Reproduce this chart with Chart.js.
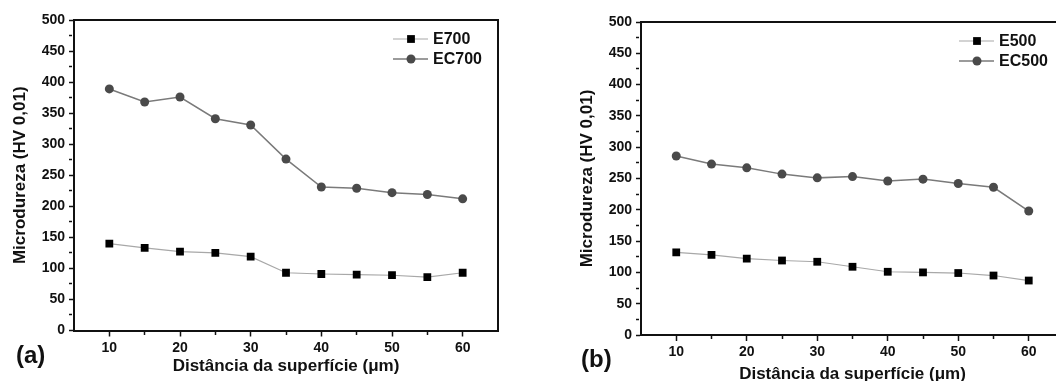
<!DOCTYPE html>
<html>
<head>
<meta charset="utf-8">
<script src="https://cdn.jsdelivr.net/npm/chart.js@4/dist/chart.umd.min.js"></script>
<style>
  html, body { margin: 0; padding: 0; background: #fff; overflow: hidden; width: 1056px; height: 381px; }
  .panel { position: absolute; top: 0; }
  #pa { left: 0; width: 520px; height: 381px; }
  #pb { left: 530px; width: 545px; height: 395px; }
  .tag { position: absolute; font: bold 24px "Liberation Sans", Arial, sans-serif; color: #111; }
</style>
</head>
<body>
<div class="panel" id="pa"><canvas id="chartA"></canvas></div>
<div class="panel" id="pb"><canvas id="chartB"></canvas></div>
<div class="tag" style="left:16px; top:341px;">(a)</div>
<div class="tag" style="left:581px; top:345px;">(b)</div>
<script>
// Distance from surface (um)
const distances = [10, 15, 20, 25, 30, 35, 40, 45, 50, 55, 60];

// Panel (a)
const e700  = [140, 133, 127, 125, 119, 93, 91, 90, 89, 86, 93];
const ec700 = [389, 368, 376, 341, 331, 276, 231, 229, 222, 219, 212];

// Panel (b)
const e500  = [132, 128, 122, 119, 117, 109, 101, 100, 99, 95, 87];
const ec500 = [286, 273, 267, 257, 251, 253, 246, 249, 242, 236, 198];

// Tick positions (minor ticks without labels)
const xTicks = [10, 15, 20, 25, 30, 35, 40, 45, 50, 55, 60];
const yTicks = [0, 25, 50, 75, 100, 125, 150, 175, 200, 225, 250, 275, 300, 325, 350, 375, 400, 425, 450, 475, 500];

const FONT = '"Liberation Sans", Arial, sans-serif';

const toXY = (ys) => ys.map((y, i) => ({ x: distances[i], y: y }));

// frame on top and right of the plot area
const frame = {
    id: 'frame',
    beforeDatasetsDraw(chart) {
        const { ctx, chartArea: a } = chart;
        ctx.save();
        ctx.strokeStyle = '#111';
        ctx.lineWidth = 2;
        ctx.beginPath();
        ctx.moveTo(a.left, a.top);
        ctx.lineTo(a.right, a.top);
        ctx.lineTo(a.right, a.bottom);
        ctx.stroke();
        ctx.restore();
    }
};

// legend drawn inside the top right corner
const insetLegend = {
    id: 'insetLegend',
    afterDraw(chart) {
        const { ctx, chartArea: a } = chart;
        chart.data.datasets.forEach((ds, i) => {
            const y = a.top + 19 + i * 20;
            const mx = a.right - 87;
            ctx.save();
            ctx.strokeStyle = ds.borderColor;
            ctx.lineWidth = ds.borderWidth;
            ctx.beginPath();
            ctx.moveTo(a.right - 105, y);
            ctx.lineTo(a.right - 70, y);
            ctx.stroke();
            ctx.fillStyle = ds.pointBackgroundColor;
            if (ds.pointStyle === 'rect') {
                const s = ds.pointRadius * Math.SQRT1_2;
                ctx.fillRect(mx - s, y - s, 2 * s, 2 * s);
            } else {
                ctx.beginPath();
                ctx.arc(mx, y, ds.pointRadius, 0, Math.PI * 2);
                ctx.fill();
            }
            ctx.fillStyle = '#111';
            ctx.font = 'bold 16px ' + FONT;
            ctx.textBaseline = 'middle';
            ctx.fillText(ds.label, a.right - 65, y + 1);
            ctx.restore();
        });
    }
};

function makeChart(id, labels, lower, upper, opts) {
    const ctx = document.getElementById(id).getContext('2d');
    return new Chart(ctx, {
        type: 'scatter',
        data: {
            datasets: [
                {
                    label: labels[0],
                    data: toXY(lower),
                    showLine: true,
                    borderColor: '#a8a8a8',
                    borderWidth: 1.2,
                    pointStyle: 'rect',
                    pointRadius: 5.5,
                    pointBackgroundColor: '#000',
                    pointBorderWidth: 0,
                },
                {
                    label: labels[1],
                    data: toXY(upper),
                    showLine: true,
                    borderColor: '#7a7a7a',
                    borderWidth: 1.5,
                    pointStyle: 'circle',
                    pointRadius: 4.5,
                    pointBackgroundColor: '#4a4a4a',
                    pointBorderWidth: 0,
                },
            ],
        },
        options: {
            responsive: true,
            maintainAspectRatio: false,
            animation: false,
            layout: { padding: { top: opts.top, right: opts.right, left: 0, bottom: 0 } },
            plugins: {
                legend: { display: false },
                tooltip: { enabled: false },
            },
            scales: {
                x: {
                    type: 'linear',
                    min: 5,
                    max: 65,
                    afterBuildTicks: (s) => { s.ticks = xTicks.map(v => ({ value: v })); },
                    afterFit: (s) => { s.height = opts.xHeight; },
                    border: { color: '#111', width: 2 },
                    grid: {
                        drawOnChartArea: false,
                        tickLength: 6,
                        tickColor: '#111',
                        tickWidth: 1.5,
                        tickBorderDash: (c) => (c.tick && c.tick.value % 10 !== 0 ? [3, 10] : []),
                    },
                    ticks: {
                        autoSkip: false,
                        maxRotation: 0,
                        padding: 3,
                        color: '#111',
                        font: { family: FONT, size: 14, weight: 'bold' },
                        callback: (v) => (v % 10 === 0 ? v : ''),
                    },
                    title: {
                        display: true,
                        text: 'Distância da superfície (μm)',
                        color: '#111',
                        font: { family: FONT, size: 17, weight: 'bold' },
                        padding: { top: 0, bottom: opts.xTitlePad },
                    },
                },
                y: {
                    min: 0,
                    max: 500,
                    afterBuildTicks: (s) => { s.ticks = yTicks.map(v => ({ value: v })); },
                    afterFit: (s) => { s.width = opts.yWidth; },
                    border: { color: '#111', width: 2 },
                    grid: {
                        drawOnChartArea: false,
                        tickLength: 5,
                        tickColor: '#111',
                        tickWidth: 1.5,
                        tickBorderDash: (c) => (c.tick && c.tick.value % 50 !== 0 ? [3, 10] : []),
                    },
                    ticks: {
                        autoSkip: false,
                        padding: 4,
                        color: '#111',
                        font: { family: FONT, size: 14, weight: 'bold' },
                        callback: (v) => (v % 50 === 0 ? v : ''),
                    },
                    title: {
                        display: true,
                        text: 'Microdureza (HV 0,01)',
                        color: '#111',
                        font: { family: FONT, size: 17, weight: 'bold' },
                        padding: { top: opts.yTitlePad, bottom: 0 },
                    },
                },
            },
        },
        plugins: [frame, insetLegend],
    });
}

makeChart('chartA', ['E700', 'EC700'], e700, ec700,
    { top: 20, right: 22, xHeight: 50.5, yWidth: 74, xTitlePad: 4, yTitlePad: 10 });
makeChart('chartB', ['E500', 'EC500'], e500, ec500,
    { top: 22, right: 11, xHeight: 60, yWidth: 111, xTitlePad: 10, yTitlePad: 47 });
</script>
</body>
</html>
